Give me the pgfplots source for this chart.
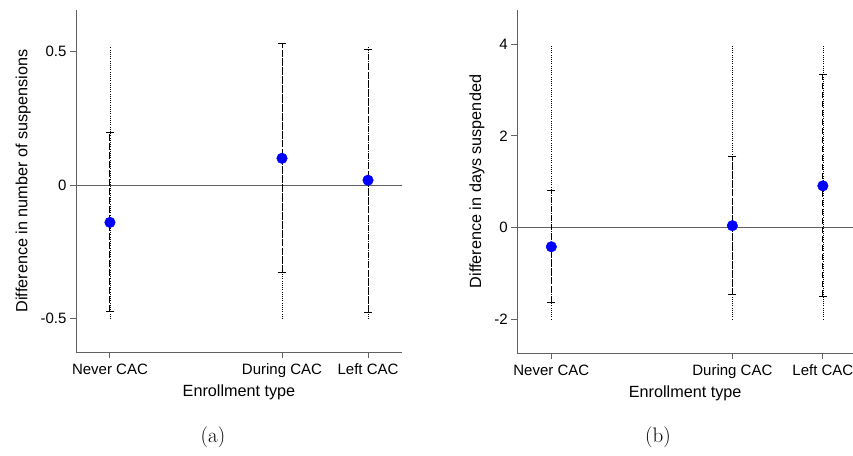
\documentclass[border=0pt]{standalone}
\usepackage{pgfplots}
\pgfplotsset{compat=1.18}
\usepackage{fontspec}
\newfontfamily\arial{Liberation Sans}
\begin{document}
\begin{tikzpicture}[x=1pt,y=1pt]
\pgfplotsset{
  mystyle/.style={
    scale only axis,
    axis x line*=bottom, axis y line*=left,
    axis line style={draw=black!62, line width=1pt, -},
    tick style={draw=black!62, line width=1pt},
    tick align=outside, major tick length=6pt,
    xtick={0,2,3}, xticklabels={Never CAC, During CAC, Left CAC},
    tick label style={font=\arial\fontsize{15}{17}\selectfont, black},
    xticklabel style={yshift=-2pt},
    label style={font=\arial\fontsize{16.2}{19}\selectfont},
    xlabel={Enrollment type},
    clip=false,
  },
  dotl/.style={black, line width=0.6pt, dash pattern=on 0.6pt off 1.6pt},
  dashl/.style={black, line width=1pt, dash pattern=on 6.5pt off 2.5pt},
  caps/.style={only marks, mark=-, mark size=3.9pt, mark options={solid, black, line width=1pt}},
  pts/.style={only marks, mark=*, mark size=5.3pt, mark options={draw=blue, fill=blue}},
}
% ---------------- panel (a)
\begin{axis}[mystyle, at={(76pt,103pt)}, anchor=south west,
  width=326pt, height=342pt,
  xmin=-0.395, xmax=3.395, ymin=-0.625, ymax=0.655,
  ytick={-0.5,0,0.5}, yticklabels={-0.5,0,0.5},
  ylabel={Difference in number of suspensions}, ylabel shift=3pt]
\addplot[black!62, line width=1pt] coordinates {(-0.395,0) (3.395,0)};
\addplot[dotl] coordinates {(0,-0.50) (0,0.515)};
\addplot[dotl] coordinates {(2,-0.50) (2,0.515)};
\addplot[dotl] coordinates {(3,-0.50) (3,0.515)};
\addplot[dashl] coordinates {(0,-0.475) (0,0.196)};
\addplot[dashl] coordinates {(2,-0.328) (2,0.528)};
\addplot[dashl] coordinates {(3,-0.477) (3,0.509)};
\addplot[caps] coordinates {(0,-0.475) (0,0.196) (2,-0.328) (2,0.528) (3,-0.477) (3,0.509)};
\addplot[pts] coordinates {(0,-0.14) (2,0.10) (3,0.018)};
\end{axis}
% ---------------- panel (b)
\begin{axis}[mystyle, at={(517.3pt,102pt)}, anchor=south west,
  width=335.7pt, height=343pt,
  xmin=-0.376, xmax=3.333, ymin=-2.74, ymax=4.75,
  ytick={-2,0,2,4}, yticklabels={-2,0,2,4},
  ylabel={Difference in days suspended}, ylabel shift=3pt]
\addplot[black!62, line width=1pt] coordinates {(-0.376,0) (3.333,0)};
\addplot[dotl] coordinates {(0,-2) (0,4)};
\addplot[dotl] coordinates {(2,-2) (2,4)};
\addplot[dotl] coordinates {(3,-2) (3,4)};
\addplot[dashl] coordinates {(0,-1.63) (0,0.80)};
\addplot[dashl] coordinates {(2,-1.47) (2,1.54)};
\addplot[dashl] coordinates {(3,-1.50) (3,3.34)};
\addplot[caps] coordinates {(0,-1.63) (0,0.80) (2,-1.47) (2,1.54) (3,-1.50) (3,3.34)};
\addplot[pts] coordinates {(0,-0.42) (2,0.04) (3,0.91)};
\end{axis}
\node[font=\fontsize{21}{25}\selectfont] at (213pt,18pt) {(a)};
\node[font=\fontsize{21}{25}\selectfont] at (658pt,18pt) {(b)};
\pgfresetboundingbox
\path[use as bounding box] (0pt,0pt) rectangle (853pt,455pt);
\end{tikzpicture}
\end{document}
